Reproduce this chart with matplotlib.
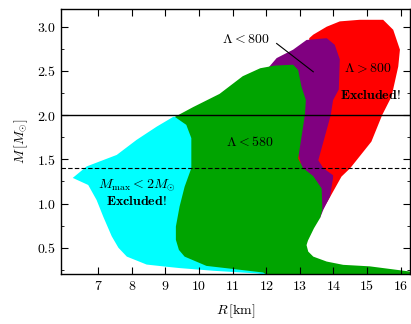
import numpy as np
import matplotlib
matplotlib.use("Agg")
import matplotlib.pyplot as plt
from matplotlib.ticker import MultipleLocator, FuncFormatter

plt.rcParams['mathtext.fontset'] = 'cm'
plt.rcParams['font.family'] = 'serif'

# region boundaries, (R [km], M [Msun])
# Lambda > 800 (red), parts of the left side sit under the other regions
red_R = [13.28, 13.40, 13.80, 14.19, 14.78, 15.48, 15.78, 15.98, 15.93, 15.73, 15.45,
         15.13, 14.50, 14.24, 13.85, 13.50, 13.30, 13.20, 12.90, 12.80, 13.28]
red_M = [2.87, 2.91, 3.00, 3.06, 3.078, 3.078, 2.965, 2.74, 2.55, 2.21, 2.00,
         1.70, 1.40, 1.305, 1.04, 0.82, 0.68, 0.55, 0.80, 2.40, 2.80]

# Lambda < 800 (purple)
purple_R = [12.05, 12.31, 12.80, 13.20, 13.80, 14.04, 14.19, 14.16, 13.99, 13.92, 13.55,
            13.70, 13.99, 13.99, 13.90, 13.70, 13.60, 13.30, 12.70, 12.30]
purple_M = [2.53, 2.645, 2.74, 2.85, 2.87, 2.795, 2.63, 2.29, 2.17, 2.00, 1.49,
            1.40, 1.32, 1.29, 1.08, 0.93, 0.835, 1.00, 2.00, 2.45]

# Mmax < 2 Msun excluded (cyan)
cyan_R = [6.24, 6.655, 7.55, 8.14, 8.74, 9.23, 9.90, 10.60, 12.70, 12.10, 11.71, 10.42,
          9.43, 9.04, 8.44, 7.85, 7.60, 7.40, 7.15, 6.95, 6.70]
cyan_M = [1.29, 1.42, 1.55, 1.72, 1.87, 1.98, 2.00, 1.20, 0.10, 0.19, 0.21, 0.24,
          0.27, 0.285, 0.31, 0.40, 0.50, 0.63, 0.85, 1.04, 1.21]

# Lambda < 580 (green)
green_R = [9.28, 9.82, 10.61, 11.30, 11.82, 12.25, 12.80, 12.95, 13.05, 13.18, 13.15,
           12.95, 13.10, 13.40, 13.65, 13.67, 13.60, 13.42, 13.24, 13.20, 13.25, 13.40,
           13.80, 14.29, 15.08, 16.40, 16.40, 12.40, 11.91, 11.02, 10.22, 9.57, 9.40,
           9.31, 9.31, 9.42, 9.57, 9.77, 9.77, 9.62]
green_M = [1.98, 2.09, 2.24, 2.44, 2.53, 2.56, 2.57, 2.51, 2.32, 2.17, 2.00,
           1.51, 1.40, 1.31, 1.17, 0.93, 0.835, 0.72, 0.58, 0.53, 0.457, 0.40,
           0.344, 0.307, 0.29, 0.225, 0.10, 0.10, 0.22, 0.26, 0.295, 0.40, 0.476,
           0.59, 0.74, 0.966, 1.19, 1.40, 1.74, 1.89]

m_max_line = 2.0
m_canonical = 1.4

x_ticks = [7, 8, 9, 10, 11, 12, 13, 14, 15, 16]

fig = plt.figure(figsize=(4.11, 3.24), dpi=100)
ax = fig.add_axes([0.1484, 0.1534, 0.8492, 0.8188])

ax.fill(red_R, red_M, color='#ff0000', lw=0)
ax.fill(purple_R, purple_M, color='#800080', lw=0)
ax.fill(cyan_R, cyan_M, color='#00ffff', lw=0)
ax.fill(green_R, green_M, color='#00a400', lw=0)

ax.axhline(m_max_line, color='k', lw=1.0)
ax.axhline(m_canonical, color='k', lw=0.8, ls=(0, (4, 2)))

ax.plot([12.31, 13.40], [2.81, 2.49], color='k', lw=0.8)

fs = 10
ax.text(11.40, 2.86, r'$\Lambda < 800$', ha='center', va='center', fontsize=fs)
ax.text(15.01, 2.53, r'$\Lambda > 800$', ha='center', va='center', fontsize=fs)
ax.text(15.11, 2.23, r'$\mathbf{Excluded!}$', ha='center', va='center', fontsize=fs)
ax.text(11.51, 1.70, r'$\Lambda < 580$', ha='center', va='center', fontsize=fs)
ax.text(8.14, 1.21, r'$M_{\max} < 2M_{\odot}$', ha='center', va='center', fontsize=fs)
ax.text(8.14, 1.034, r'$\mathbf{Excluded!}$', ha='center', va='center', fontsize=fs)

ax.set_xlim(5.89, 16.28)
ax.set_ylim(0.2, 3.2)
ax.set_xticks(x_ticks)
ax.yaxis.set_major_locator(MultipleLocator(0.5))
ax.yaxis.set_minor_locator(MultipleLocator(0.25))
ax.xaxis.set_major_formatter(FuncFormatter(lambda v, p: r'$%d$' % round(v)))
ax.yaxis.set_major_formatter(FuncFormatter(lambda v, p: r'$%.1f$' % v))
ax.tick_params(which='both', direction='in', top=True, right=True, labelsize=10)
ax.tick_params(which='major', length=5, width=0.8)
ax.tick_params(which='minor', length=2.5, width=0.6)
for s in ax.spines.values():
    s.set_linewidth(1.0)

ax.set_xlabel(r'$R\,[\mathrm{km}]$', fontsize=10, labelpad=7)
ax.set_ylabel(r'$M\,[M_{\odot}]$', fontsize=10, labelpad=5)

fig.savefig('out.png', dpi=100)
